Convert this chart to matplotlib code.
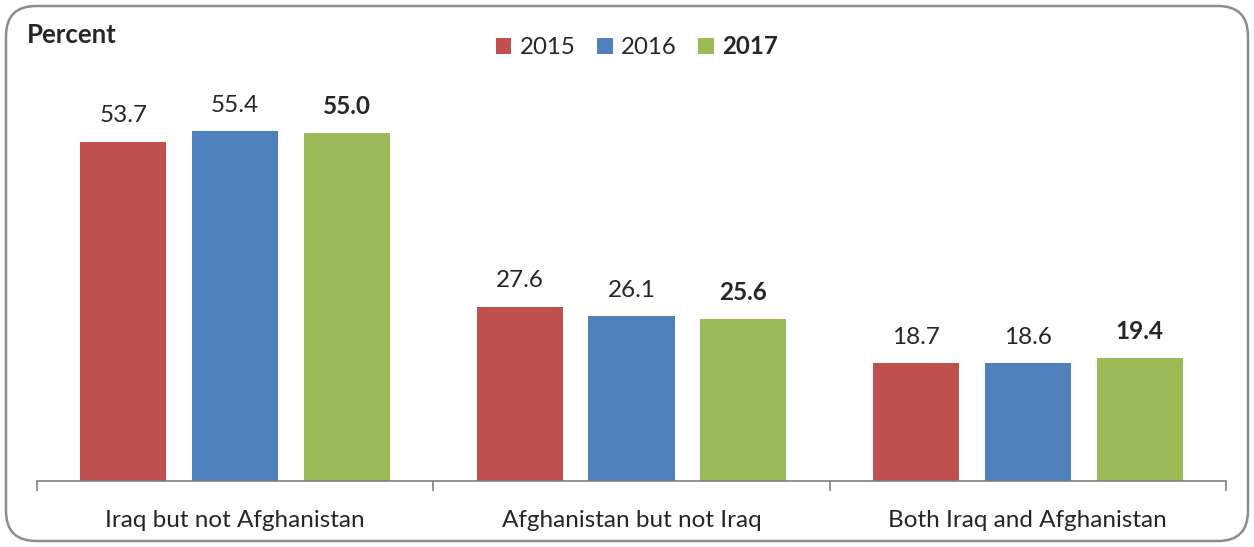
import matplotlib
matplotlib.use("Agg")
import matplotlib.pyplot as plt
from matplotlib.patches import FancyBboxPatch
import numpy as np

categories = ["Iraq but not Afghanistan", "Afghanistan but not Iraq", "Both Iraq and Afghanistan"]
years = ["2015", "2016", "2017"]
values_2015 = [53.7, 27.6, 18.7]
values_2016 = [55.4, 26.1, 18.6]
values_2017 = [55.0, 25.6, 19.4]
series = [values_2015, values_2016, values_2017]
colors = ["#C0504D", "#4F81BD", "#9BBB59"]

plt.rcParams['font.family'] = ['Lato', 'DejaVu Sans']
txt = "#262626"

fig = plt.figure(figsize=(12.54, 5.47), dpi=100)
border = FancyBboxPatch((6/1254, 6/547), 1242/1254, 535/547,
                        boxstyle="round,pad=0,rounding_size=0.024",
                        transform=fig.transFigure, facecolor="white",
                        edgecolor="#8c8c8c", linewidth=1.8, mutation_aspect=1254/547,
                        zorder=-10)
fig.patches.append(border)

ax = fig.add_axes([37/1254, 66/547, (1226-37)/1254, 381/547])
ax.set_zorder(5)
ax.set_facecolor("none")
x = np.arange(len(categories))
offset = 0.2825
width = 0.217
for i, (vals, col, yr) in enumerate(zip(series, colors, years)):
    pos = x + (i - 1) * offset
    bars = ax.bar(pos, vals, width=width, color=col, label=yr)
    for b, v in zip(bars, vals):
        ax.annotate(f"{v:.1f}", (b.get_x() + b.get_width() / 2, v),
                    xytext=(0, 11), textcoords="offset points",
                    ha="center", va="bottom", fontsize=17.5, color=txt,
                    fontweight="bold" if i == 2 else "normal")

ax.set_xlim(-0.5, 2.5)
ax.set_ylim(0, 381 / 6.32)
for s in ["left", "right", "top"]:
    ax.spines[s].set_visible(False)
ax.spines["bottom"].set_color("#808080")
ax.spines["bottom"].set_linewidth(1.2)
ax.set_yticks([])
ax.set_xticks(x)
ax.set_xticklabels(categories, fontsize=17.5, color=txt)
ax.tick_params(axis="x", which="major", length=0, pad=21)
ax.set_xticks([-0.5, 0.5, 1.5, 2.5], minor=True)
ax.tick_params(axis="x", which="minor", length=7, width=1.2, color="#808080", direction="out")

fig.text(27/1254, 1 - 35/547, "Percent", fontsize=18.5, fontweight="bold", color=txt,
         ha="left", va="center")

leg = ax.legend(loc="center", bbox_to_anchor=(637/1254, 1 - 47/547),
                bbox_transform=fig.transFigure, ncol=3, frameon=False,
                fontsize=17.3, handlelength=0.65, handleheight=0.65,
                handletextpad=0.35, columnspacing=0.9)
for t in leg.get_texts():
    t.set_color(txt)
leg.get_texts()[2].set_fontweight("bold")

fig.savefig("out.png", dpi=100)
